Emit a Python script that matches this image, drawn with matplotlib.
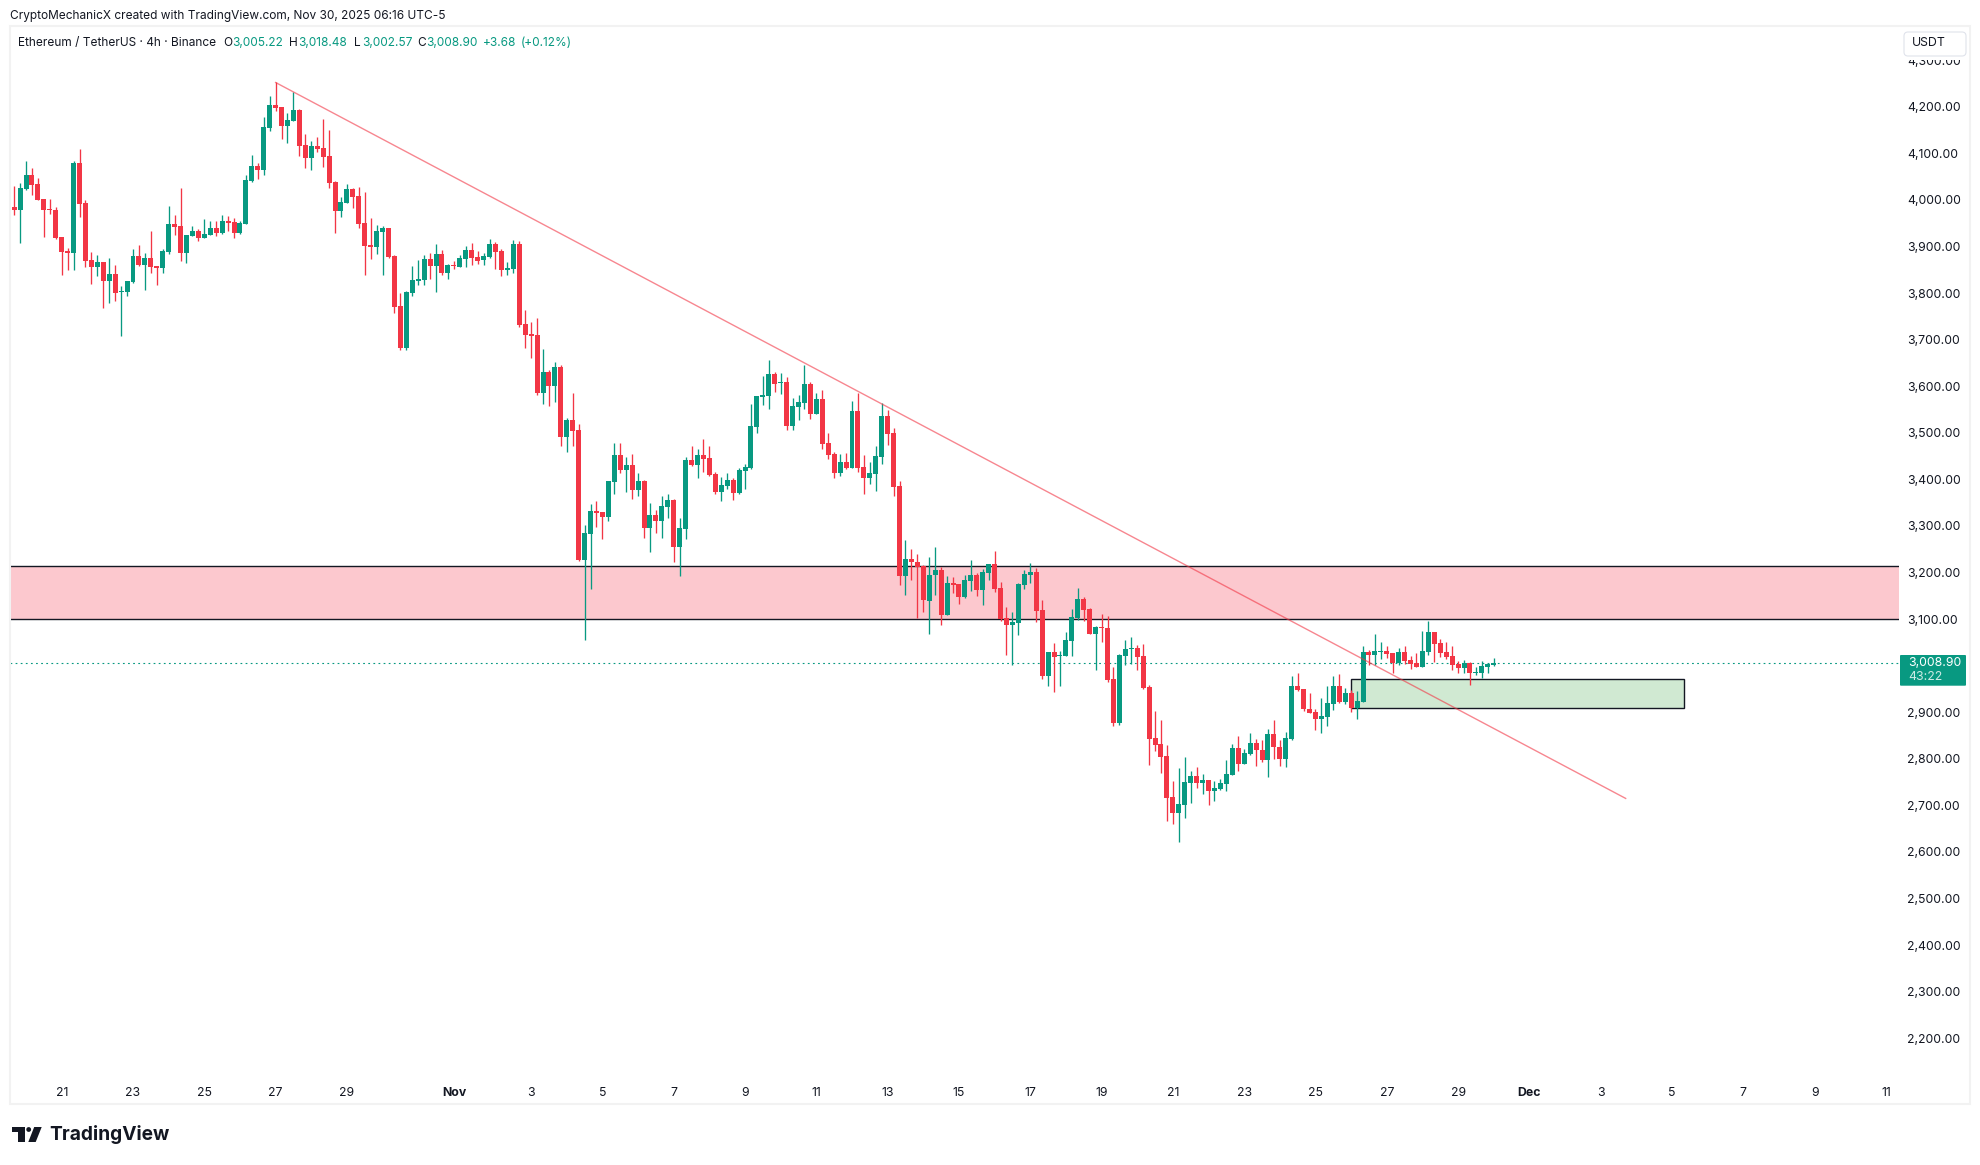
import matplotlib
matplotlib.use("Agg")
import matplotlib.pyplot as plt
import numpy as np
from matplotlib.patches import Rectangle, FancyBboxPatch, Polygon, Circle
from matplotlib.transforms import Affine2D

W, H = 1981, 1165

opens = [
    3974, 3985, 3978, 4023, 4053, 4034, 4002, 3980, 3978, 3920,
    3890, 3886, 4079, 3993, 3871, 3856, 3867, 3826, 3841, 3803,
    3803, 3824, 3880, 3860, 3875, 3858, 3854, 3888, 3948, 3944,
    3886, 3922, 3933, 3918, 3925, 3940, 3929, 3955, 3953, 3929,
    3948, 4040, 4073, 4064, 4154, 4204, 4199, 4159, 4169, 4193,
    4118, 4090, 4116, 4111, 4094, 4038, 3976, 3993, 4023, 4008,
    3950, 3903, 3899, 3931, 3940, 3880, 3772, 3682, 3800, 3826,
    3828, 3873, 3858, 3884, 3843, 3860, 3856, 3873, 3892, 3877,
    3871, 3877, 3905, 3890, 3850, 3852, 3905, 3733, 3712, 3710,
    3585, 3631, 3600, 3641, 3491, 3527, 3506, 3227, 3283, 3332,
    3330, 3319, 3394, 3452, 3420, 3431, 3377, 3397, 3296, 3324,
    3311, 3341, 3356, 3255, 3293, 3442, 3431, 3452, 3446, 3411,
    3373, 3386, 3399, 3371, 3418, 3424, 3512, 3577, 3579, 3626,
    3607, 3609, 3515, 3555, 3564, 3605, 3540, 3573, 3478, 3454,
    3414, 3437, 3424, 3547, 3427, 3403, 3411, 3448, 3536, 3499,
    3386, 3193, 3229, 3223, 3214, 3139, 3195, 3205, 3109, 3178,
    3175, 3147, 3182, 3195, 3162, 3199, 3218, 3167, 3102, 3087,
    3092, 3173, 3195, 3201, 3119, 2978, 3029, 3021, 3021, 3053,
    3102, 3143, 3122, 3068, 3083, 3081, 2971, 2877, 3021, 3036,
    3038, 3021, 2954, 2845, 2832, 2806, 2718, 2684, 2701, 2748,
    2763, 2748, 2755, 2731, 2735, 2746, 2765, 2823, 2789, 2810,
    2834, 2819, 2797, 2853, 2825, 2800, 2842, 2956, 2950, 2907,
    2900, 2885, 2890, 2918, 2956, 2922, 2941, 2909, 2921, 3029,
    3022, 3029, 3031, 3027, 3005, 3029, 3012, 3005, 2997, 3029,
    3072, 3048, 3029, 3020, 3003, 2995, 3005, 2984, 2984, 2997,
    3001,
]
highs = [
    3985, 4030, 4036, 4083, 4068, 4047, 4002, 4002, 3985, 3920,
    3897, 4083, 4109, 4000, 3888, 3882, 3867, 3875, 3860, 3815,
    3826, 3895, 3903, 3886, 3933, 3858, 3895, 3987, 3968, 4026,
    3925, 3944, 3938, 3959, 3955, 3955, 3968, 3965, 3961, 3955,
    4053, 4096, 4079, 4178, 4223, 4252, 4199, 4187, 4232, 4195,
    4141, 4126, 4135, 4174, 4150, 4041, 4006, 4034, 4026, 4028,
    4017, 3961, 3946, 3944, 3940, 3882, 3800, 3804, 3858, 3871,
    3882, 3886, 3905, 3892, 3862, 3869, 3882, 3901, 3907, 3890,
    3886, 3916, 3910, 3895, 3867, 3914, 3912, 3764, 3738, 3746,
    3680, 3635, 3652, 3646, 3532, 3585, 3519, 3302, 3347, 3353,
    3330, 3397, 3478, 3478, 3448, 3455, 3414, 3399, 3349, 3334,
    3364, 3369, 3358, 3317, 3448, 3472, 3465, 3487, 3472, 3416,
    3405, 3414, 3403, 3424, 3433, 3562, 3579, 3622, 3656, 3631,
    3628, 3620, 3575, 3581, 3646, 3609, 3585, 3592, 3500, 3459,
    3455, 3457, 3568, 3585, 3452, 3437, 3472, 3564, 3549, 3510,
    3396, 3270, 3250, 3240, 3216, 3233, 3255, 3212, 3193, 3190,
    3175, 3195, 3227, 3199, 3207, 3218, 3246, 3180, 3126, 3115,
    3177, 3205, 3220, 3210, 3141, 3029, 3049, 3031, 3072, 3122,
    3167, 3147, 3124, 3085, 3111, 3107, 2997, 3025, 3055, 3062,
    3044, 3046, 2958, 2903, 2883, 2830, 2752, 2780, 2804, 2774,
    2782, 2767, 2755, 2752, 2757, 2797, 2832, 2849, 2821, 2855,
    2843, 2840, 2864, 2883, 2840, 2858, 2978, 2984, 2950, 2941,
    2907, 2931, 2956, 2978, 2982, 2952, 2948, 2946, 3042, 3033,
    3067, 3050, 3042, 3027, 3037, 3042, 3020, 3027, 3074, 3095,
    3072, 3057, 3050, 3042, 3010, 3012, 3007, 2997, 3010, 3005,
    3016,
]
lows = [
    3974, 3968, 3907, 4021, 4011, 4000, 3920, 3970, 3916, 3839,
    3850, 3850, 3963, 3856, 3819, 3837, 3768, 3779, 3783, 3708,
    3794, 3822, 3858, 3807, 3843, 3817, 3843, 3884, 3925, 3869,
    3865, 3922, 3912, 3918, 3925, 3922, 3927, 3933, 3918, 3927,
    3948, 4038, 4045, 4053, 4148, 4191, 4131, 4122, 4169, 4094,
    4068, 4064, 4103, 4071, 4026, 3929, 3963, 3993, 3983, 3940,
    3839, 3873, 3884, 3839, 3875, 3757, 3678, 3678, 3794, 3817,
    3817, 3830, 3802, 3839, 3830, 3852, 3856, 3856, 3860, 3862,
    3860, 3875, 3852, 3837, 3839, 3843, 3727, 3682, 3661, 3581,
    3562, 3558, 3566, 3472, 3459, 3472, 3225, 3055, 3165, 3298,
    3272, 3311, 3369, 3414, 3373, 3358, 3364, 3274, 3244, 3285,
    3274, 3317, 3223, 3193, 3272, 3429, 3403, 3416, 3407, 3369,
    3353, 3379, 3356, 3369, 3379, 3422, 3500, 3560, 3551, 3588,
    3583, 3506, 3506, 3527, 3551, 3530, 3540, 3465, 3444, 3403,
    3407, 3422, 3424, 3416, 3369, 3390, 3375, 3433, 3474, 3364,
    3173, 3152, 3184, 3102, 3115, 3068, 3152, 3087, 3109, 3156,
    3132, 3145, 3160, 3150, 3130, 3184, 3158, 3096, 3023, 3001,
    3066, 3165, 3177, 3094, 2971, 2956, 2943, 2956, 3021, 3021,
    3098, 3096, 3068, 2991, 3051, 2965, 2870, 2873, 3001, 3004,
    2991, 2950, 2787, 2817, 2770, 2667, 2660, 2621, 2673, 2705,
    2737, 2724, 2701, 2709, 2733, 2731, 2765, 2774, 2789, 2808,
    2785, 2793, 2761, 2800, 2785, 2782, 2840, 2945, 2903, 2898,
    2862, 2855, 2870, 2905, 2920, 2918, 2900, 2885, 2921, 3001,
    3001, 3014, 3016, 2984, 3001, 3003, 2992, 2997, 2997, 3022,
    3007, 3018, 3014, 2990, 2984, 2984, 2958, 2980, 2973, 2984,
    2999,
]
closes = [
    3985, 3978, 4026, 4053, 4032, 4000, 3978, 3978, 3918, 3888,
    3886, 4079, 3991, 3869, 3856, 3867, 3826, 3841, 3800, 3804,
    3826, 3880, 3860, 3875, 3856, 3854, 3890, 3948, 3942, 3886,
    3925, 3933, 3918, 3927, 3940, 3929, 3955, 3950, 3929, 3950,
    4043, 4073, 4064, 4157, 4204, 4197, 4159, 4172, 4193, 4116,
    4090, 4116, 4109, 4092, 4036, 3976, 3995, 4023, 4006, 3948,
    3901, 3899, 3933, 3940, 3877, 3770, 3682, 3802, 3828, 3830,
    3873, 3858, 3884, 3843, 3860, 3858, 3875, 3892, 3875, 3869,
    3880, 3905, 3888, 3850, 3854, 3905, 3731, 3710, 3708, 3585,
    3631, 3600, 3641, 3491, 3527, 3504, 3227, 3285, 3332, 3328,
    3319, 3397, 3452, 3420, 3431, 3377, 3396, 3296, 3324, 3311,
    3343, 3356, 3255, 3296, 3442, 3431, 3452, 3444, 3409, 3373,
    3388, 3399, 3371, 3420, 3427, 3515, 3579, 3581, 3626, 3605,
    3609, 3515, 3558, 3566, 3605, 3540, 3573, 3476, 3452, 3414,
    3437, 3424, 3547, 3424, 3403, 3414, 3450, 3536, 3497, 3384,
    3193, 3229, 3223, 3212, 3141, 3195, 3205, 3109, 3178, 3173,
    3147, 3184, 3195, 3162, 3201, 3218, 3164, 3100, 3087, 3094,
    3175, 3197, 3201, 3117, 2978, 3029, 3019, 3023, 3055, 3104,
    3143, 3120, 3068, 3083, 3081, 2969, 2877, 3023, 3036, 3038,
    3019, 2952, 2843, 2830, 2804, 2716, 2684, 2703, 2750, 2763,
    2748, 2755, 2731, 2737, 2748, 2767, 2823, 2789, 2812, 2834,
    2819, 2797, 2853, 2825, 2800, 2845, 2956, 2948, 2907, 2898,
    2885, 2892, 2920, 2956, 2922, 2941, 2909, 2924, 3029, 3022,
    3031, 3031, 3025, 3005, 3029, 3010, 3003, 2997, 3031, 3072,
    3046, 3027, 3018, 3001, 2995, 3005, 2984, 2986, 2999, 3003,
    3005,
]

# time axis: positions are candle numbers, the clock change on Nov 2 shifts them by one
date_ticks = [9, 21, 33, 45, 57, 75, 88, 100, 112, 124, 136, 148, 160, 172, 184,
              196, 208, 220, 232, 244, 256, 268, 280, 292, 304, 316]
date_labels = ["21", "23", "25", "27", "29", "Nov", "3", "5", "7", "9", "11", "13", "15",
               "17", "19", "21", "23", "25", "27", "29", "Dec", "3", "5", "7", "9", "11"]
price_ticks = [2200, 2300, 2400, 2500, 2600, 2700, 2800, 2900, 3100, 3200, 3300, 3400,
               3500, 3600, 3700, 3800, 3900, 4000, 4100, 4200, 4300]

trend_x = [45, 272.2]
trend_y = [4252, 2715]
band_low, band_high = 3101, 3213
box_x = [226, 282]
box_y = [2910, 2972]

GREEN = "#089981"
RED = "#F23645"
TEXT = "#131722"
FRAME = "#F2F2F2"

plt.rcParams["font.family"] = ["Inter", "DejaVu Sans"]

fig = plt.figure(figsize=(W / 100, H / 100), dpi=100, facecolor="white")
# pixel transform for the page furniture, origin top left like the screenshot
px = Affine2D().scale(1 / W, -1 / H).translate(0, 1) + fig.transFigure

ax = fig.add_axes([10 / W, (H - 1073) / H, (1899 - 10) / W, (1073 - 28) / H])
ax.set_xlim(0.3, 318.2)
ax.set_ylim(2125.5, 4369)
for s in ax.spines.values():
    s.set_visible(False)

x = np.arange(len(opens))
o, h, l, c = map(np.array, (opens, highs, lows, closes))
colors = np.where(c >= o, GREEN, RED)

ax.axhspan(band_low, band_high, facecolor="#FCC8CE", edgecolor="none", zorder=1)
ax.axhline(band_low, color=TEXT, lw=1.0, zorder=1.5)
ax.axhline(band_high, color=TEXT, lw=1.0, zorder=1.5)
ax.add_patch(Rectangle((box_x[0], box_y[0]), box_x[1] - box_x[0], box_y[1] - box_y[0],
                       facecolor="#D0E9D2", edgecolor=TEXT, lw=1.0, zorder=1.6))
ax.axhline(c[-1], color=GREEN, lw=0.8, linestyle=(0, (1.6, 3.0)), zorder=1.7)

ax.vlines(x, l, h, colors=colors, lw=0.95, zorder=2)
ax.bar(x, np.maximum(np.abs(c - o), 2), bottom=np.minimum(o, c), width=0.84,
       color=colors, linewidth=0, zorder=2.1)
ax.plot(trend_x, trend_y, color="#F23645", alpha=0.6, lw=1.0, zorder=3)

ax.yaxis.tick_right()
ax.set_yticks(price_ticks)
ax.set_yticklabels([f"{p:,.2f}" for p in price_ticks], fontsize=8.85, color=TEXT)
ax.set_xticks(date_ticks)
ax.set_xticklabels(date_labels, fontsize=8.85, color=TEXT)
for t, lab in zip(ax.get_xticklabels(), date_labels):
    if lab in ("Nov", "Dec"):
        t.set_fontweight("bold")
ax.tick_params(axis="y", length=0, pad=6.0)
ax.tick_params(axis="x", length=0, pad=10)

# outer frame around pane and scales
fig.add_artist(Rectangle((10, 26), 1960, 1078, transform=px, fill=False, edgecolor=FRAME, lw=1.5))

# header lines
fig.text(10 / W, 1 - 16 / H, "CryptoMechanicX created with TradingView.com, Nov 30, 2025 06:16 UTC-5",
         fontsize=8.55, color=TEXT, va="center")
legend_bits = [
    (18, "Ethereum / TetherUS · 4h · Binance", TEXT),
    (223, "O", TEXT), (232, "3,005.22", GREEN),
    (289, "H", TEXT), (298, "3,018.48", GREEN),
    (354, "L", TEXT), (362, "3,002.57", GREEN),
    (417, "C", TEXT), (426, "3,008.90", GREEN),
    (483, "+3.68", GREEN), (521, "(+0.12%)", GREEN),
]
for bx, s, col in legend_bits:
    fig.text(bx / W, 1 - 43 / H, s, fontsize=8.55, color=col, va="center")

# currency button, covers the top half of the highest tick label
fig.add_artist(Rectangle((1900, 28), 69, 32, transform=px, facecolor="white", edgecolor="none", zorder=4))
fig.add_artist(FancyBboxPatch((1904, 32), 62, 24, boxstyle="round,pad=0,rounding_size=4", transform=px,
                              facecolor="white", edgecolor="#E0E3EB", lw=0.8, zorder=5))
fig.text(1912 / W, 1 - 43.5 / H, "USDT", fontsize=8.85, color=TEXT, va="center", zorder=6)

# last price tag
fig.add_artist(FancyBboxPatch((1900, 655), 66, 30.7, boxstyle="round,pad=0,rounding_size=1", transform=px,
                              facecolor=GREEN, edgecolor="none", zorder=5))
fig.text(1908.5 / W, 1 - 662.5 / H, "3,008.90", fontsize=8.85, color="white", va="center", zorder=6)
fig.text(1908.5 / W, 1 - 677 / H, "43:22", fontsize=8.85, color="#CDEBE5", va="center", zorder=6)

# TradingView logo
logo = "#131722"
fig.add_artist(Polygon([(12, 1127), (25, 1127), (25, 1142), (18.3, 1142), (18.3, 1132.3), (12, 1132.3)],
                       closed=True, transform=px, facecolor=logo, edgecolor="none"))
fig.add_artist(Circle((28.7, 1129.5), 2.4, transform=px, facecolor=logo, edgecolor="none"))
fig.add_artist(Polygon([(41.7, 1127), (35.7, 1142), (28.3, 1142), (34.2, 1127)],
                       closed=True, transform=px, facecolor=logo, edgecolor="none"))
fig.text(49 / W, 1 - 1135 / H, "TradingView", fontsize=13.8, fontweight="bold", color=logo, va="center")

fig.savefig("out.png", dpi=100)
